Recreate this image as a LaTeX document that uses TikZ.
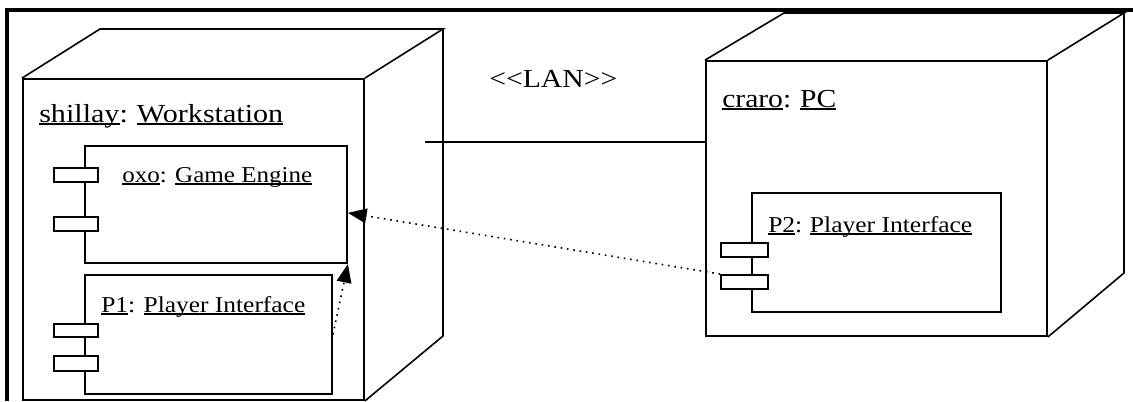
\documentclass[tikz,border=0pt]{standalone}
\usepackage{fontspec}
\setmainfont{Liberation Serif}
\usetikzlibrary{arrows.meta,fit,calc}

% one screen pixel
\newlength\pxl
\setlength\pxl{0.75pt}

% underline at a fixed depth below the baseline
\newsavebox\ulbox
\newcommand\ulin[1]{\sbox\ulbox{#1}\rlap{\rule[-0.12em]{\wd\ulbox}{0.065em}}\usebox\ulbox}
% stretch a text horizontally to a given width (in pixels)
\newcommand\fitto[2]{\resizebox{#1\pxl}{\height}{#2}}

\begin{document}
\begin{tikzpicture}[x=0.75pt,y=-0.75pt,
  frontface/.style={draw,rectangle,inner sep=0pt,line width=1.4pt},
  backedge/.style={line width=1.2pt},
  compbox/.style={draw,rectangle,inner sep=0pt,line width=1.4pt},
  portbox/.style={draw,rectangle,fill=white,inner sep=0pt,line width=1.4pt},
  nodetitle/.style={anchor=base west,inner sep=0pt,font=\fontsize{19.5}{22}\selectfont},
  comptext/.style={anchor=base west,inner sep=0pt,font=\fontsize{17}{20}\selectfont},
  deparrow/.style={line width=1.2pt,dash pattern=on 1.2pt off 3.6pt,
    -{Triangle[length=14pt,width=11pt]}},
  lanlink/.style={line width=1.4pt},
  outerframe/.style={line width=2.6pt}]

\fill[white] (0,0) rectangle (1133,401);
\useasboundingbox (0,0) rectangle (1133,401);

% surrounding frame
\draw[outerframe] (7,401) -- (7,10) -- (1133,10);

% ---- node shillay: Workstation ----
\node[frontface, fit={(23,79) (364,400)}] (ws) {};
\coordinate (wsbl) at (100,29);
\coordinate (wsbr) at (443,29);
\coordinate (wsbb) at (443,336);
\draw[backedge] (ws.north west) -- (wsbl) -- (wsbr) -- (ws.north east);
\draw[backedge] (wsbr) -- (wsbb) -- (ws.south east);
\node[nodetitle] (wsname) at (39,122)
  {\fitto{244}{\ulin{shillay}:\hspace{0.3em}\ulin{Workstation}}};

% component oxo: Game Engine
\node[compbox, fit={(85,146) (347,263)}] (ge) {};
\node[portbox, fit={(54,168) (98,182)}] (gepa) {};
\node[portbox, fit={(54,217) (98,231)}] (gepb) {};
\node[comptext] (gename) at (122,182)
  {\fitto{190}{\ulin{oxo}: \ulin{Game Engine}}};

% component P1: Player Interface
\node[compbox, fit={(85,275) (332,394)}] (p1) {};
\node[portbox, fit={(54,324) (98,337)}] (p1pa) {};
\node[portbox, fit={(54,356) (98,371)}] (p1pb) {};
\node[comptext] (p1name) at (101,312)
  {\fitto{204}{\ulin{P1}: \ulin{Player Interface}}};

% ---- node craro: PC ----
\node[frontface, fit={(706,61) (1047,336)}] (pc) {};
\coordinate (pcbl) at (784,13);
\coordinate (pcbr) at (1124,13);
\coordinate (pcbb) at (1124,273);
\draw[backedge] (pc.north west) -- (pcbl) -- (pcbr) -- (pc.north east);
\draw[backedge] (pcbr) -- (pcbb) -- (pc.south east);
\node[nodetitle] (pcname) at (722,107)
  {\fitto{114}{\ulin{craro}:\hspace{0.3em}\ulin{PC}}};

% component P2: Player Interface
\node[compbox, fit={(752,193) (1001,312)}] (p2) {};
\node[portbox, fit={(721,243) (768,257)}] (p2pa) {};
\node[portbox, fit={(721,275) (768,289)}] (p2pb) {};
\node[comptext] (p2name) at (768,232)
  {\fitto{204}{\ulin{P2}:\hspace{0.3em}\ulin{Player Interface}}};

% LAN association
\coordinate (lanend) at (425,142);
\draw[lanlink] (lanend) -- (lanend -| pc.west);
\node[nodetitle] (lanname) at (489,87)
  {\fitto{128}{<\kern0pt<LAN>\kern0pt>}};

% dependencies
\draw[deparrow] (p2pb.north west) -- ($(ge.north east)!0.57!(ge.south east)$);
\draw[deparrow] (p1.east) -- (ge.south east);

\end{tikzpicture}
\end{document}
